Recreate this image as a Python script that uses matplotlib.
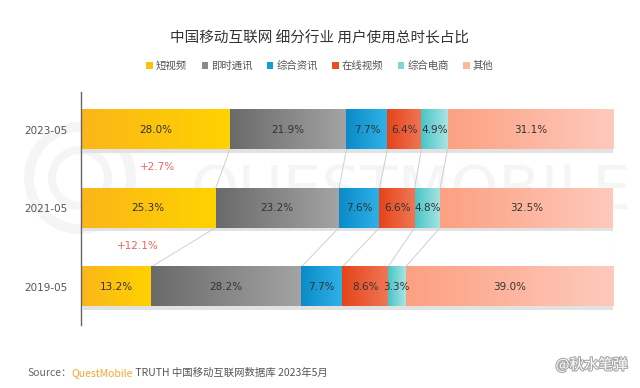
import numpy as np
import matplotlib

matplotlib.use("Agg")
import matplotlib.pyplot as plt
from matplotlib.colors import LinearSegmentedColormap
from matplotlib.patches import Rectangle, Patch, Wedge
import matplotlib.patheffects as pe

plt.rcParams["font.family"] = ["Noto Sans CJK SC", "DejaVu Sans"]

periods = ["2023-05", "2021-05", "2019-05"]
categories = ["短视频", "即时通讯", "综合资讯", "在线视频", "综合电商", "其他"]
share_2023 = [28.0, 21.9, 7.7, 6.4, 4.9, 31.1]
share_2021 = [25.3, 23.2, 7.6, 6.6, 4.8, 32.5]
share_2019 = [13.2, 28.2, 7.7, 8.6, 3.3, 39.0]
growth_labels = ["+2.7%", "+12.1%"]

# left / right ends of each segment gradient
GRADS = [
    ("#fbb61a", "#ffd200"),
    ("#6a6a6a", "#a4a4a4"),
    ("#0a8bc9", "#30b1e6"),
    ("#e5441a", "#f07655"),
    ("#48c5c7", "#a9e4e4"),
    ("#fca082", "#fecabc"),
]
LEGEND_COLORS = ["#fcc10a", "#8a8a8a", "#159bd6", "#e9501f", "#7fd6d6", "#fdb8a2"]

BAR_H = 0.5
TEXT_C = "#333333"
WM_C = "#f5f5f5"

fig = plt.figure(figsize=(6.4, 3.88), dpi=100)
W, H = 640.0, 388.0

# background logo watermark, drawn in pixel units
bg = fig.add_axes([0, 0, 1, 1], zorder=0)
bg.set_xlim(0, W)
bg.set_ylim(H, 0)
bg.axis("off")
for r, w in [(56, 10), (32, 8)]:
    bg.add_patch(Wedge((80, 178), r, 0, 360, width=w, color=WM_C, lw=0))

ax = fig.add_axes([81 / W, 1 - 325 / H, 532 / W, 233 / H], zorder=1)
ax.patch.set_alpha(0)

ax.text(62, 1.2, "QUESTMOBILE", fontsize=44, color=WM_C, ha="center",
        va="center", family="DejaVu Sans", zorder=0)

rows = [share_2023, share_2021, share_2019]
ypos = [2, 1, 0]
grad = np.linspace(0, 1, 256).reshape(1, -1)

for shares, y in zip(rows, ypos):
    left = 0.0
    ax.add_patch(Rectangle((0.3, y - BAR_H / 2 - 0.045), 100, BAR_H,
                           color="#e2e2e2", zorder=1, lw=0))
    for (c0, c1), val in zip(GRADS, shares):
        cmap = LinearSegmentedColormap.from_list("g", [c0, c1])
        ax.imshow(grad, cmap=cmap, aspect="auto", zorder=2,
                  extent=[left, left + val, y - BAR_H / 2, y + BAR_H / 2])
        ax.text(left + val / 2, y, f"{val:.1f}%", ha="center", va="center",
                fontsize=7.5, color=TEXT_C, zorder=4, family="DejaVu Sans")
        left += val

# connectors between consecutive bars
for upper, lower, yu, yl in zip(rows[:-1], rows[1:], ypos[:-1], ypos[1:]):
    cu = np.cumsum(upper)[:-1]
    cl = np.cumsum(lower)[:-1]
    for a, b in zip(cu, cl):
        ax.plot([a, b], [yu - BAR_H / 2, yl + BAR_H / 2], color="#cfcfcf",
                lw=0.7, zorder=1)

# right guide line
ax.plot([100, 100], [ypos[-1] - BAR_H / 2, ypos[0] + BAR_H / 2],
        color="#dedede", lw=0.8, zorder=1)

# growth of short video
for i, lab in enumerate(growth_labels):
    a, b = rows[i][0], rows[i + 1][0]
    ax.text((a + b) / 4 + 1.0, (ypos[i] + ypos[i + 1]) / 2 + 0.02, lab,
            ha="center", va="center", fontsize=7.5, color="#f26060",
            family="DejaVu Sans")

ax.set_xlim(0, 100)
ax.set_ylim(-0.49, 2.478)
ax.set_yticks(ypos)
ax.set_yticklabels(periods, fontsize=7.5, color="#555555", family="DejaVu Sans")
ax.set_xticks([])
ax.tick_params(axis="y", length=0, pad=10)
for s in ["top", "right", "bottom"]:
    ax.spines[s].set_visible(False)
ax.spines["left"].set_color("#666666")
ax.spines["left"].set_linewidth(1.0)

fig.text(0.5, 1 - 38 / H, "中国移动互联网 细分行业 用户使用总时长占比",
         ha="center", va="center", fontsize=10.5, color="#333333",
         weight="medium")

handles = [Patch(facecolor=c, edgecolor="none") for c in LEGEND_COLORS]
fig.legend(handles, categories, loc="center", bbox_to_anchor=(0.5, 1 - 66 / H),
           ncol=6, frameon=False, fontsize=7.5, handlelength=0.6,
           handleheight=0.6, handletextpad=0.3, columnspacing=1.4,
           labelcolor="#555555")

# source line
renderer = fig.canvas.get_renderer()
x = 27 / W
ys = 1 - 373 / H
parts = [("Source：", "#666666"), ("QuestMobile", "#f7a531"),
         (" TRUTH 中国移动互联网数据库 2023年5月", "#555555")]
for txt, col in parts:
    t = fig.text(x, ys, txt, fontsize=7.5, color=col, va="center", ha="left")
    bb = t.get_window_extent(renderer)
    x = bb.x1 / W

fig.text(628 / W, 1 - 365 / H, "@秋水笔弹", fontsize=10.5, color="white",
         ha="right", va="center",
         path_effects=[pe.withStroke(linewidth=1.6, foreground="#a8a8a8")])

fig.savefig("out.png", dpi=100, facecolor="white")
